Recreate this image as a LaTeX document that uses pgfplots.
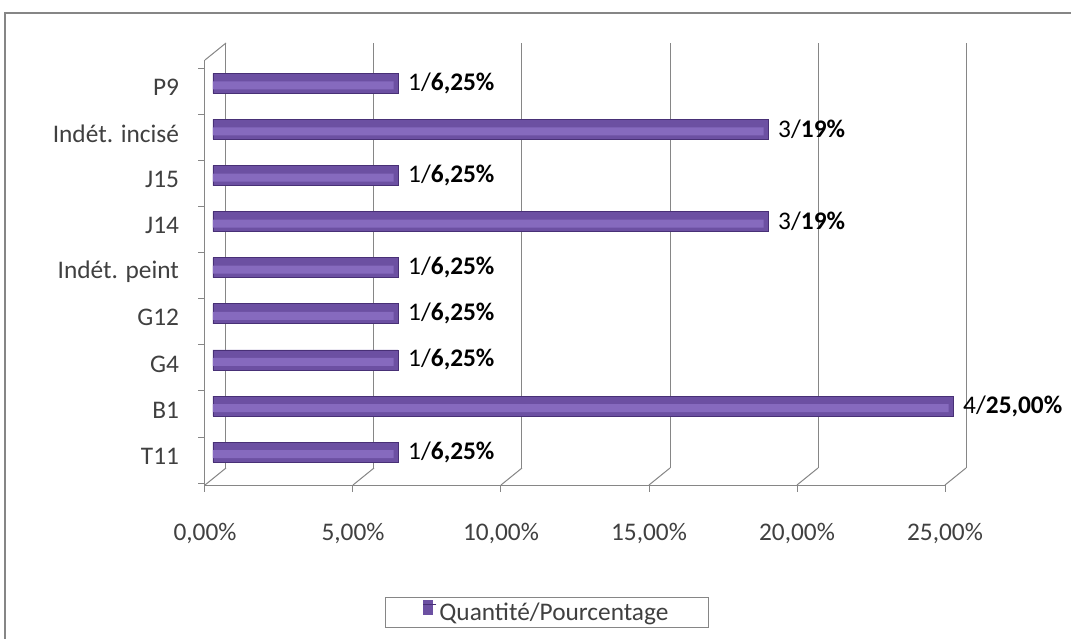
\documentclass[border=0pt]{standalone}
\usepackage{pgfplots}
\pgfplotsset{compat=1.18}
\usepackage{fontspec}
\setmainfont{Carlito}
\definecolor{barbase}{RGB}{108,80,162}
\definecolor{barhi}{RGB}{134,106,190}
\definecolor{barline}{RGB}{72,48,118}
\definecolor{gridcol}{RGB}{134,134,134}
\definecolor{txtcol}{RGB}{64,64,64}
\def\lbla{1/\textbf{6,25\%}}
\def\lblb{3/\textbf{19\%}}
\def\lblc{4/\textbf{25,00\%}}

\begin{document}
\begin{tikzpicture}[font=\fontsize{19}{23}\selectfont]
\path[use as bounding box, fill=white] (-153.75pt,-115.5pt) rectangle (649.5pt,363.75pt);
\draw[gridcol, line width=1.5pt] (-150pt,-130pt) -- (-150pt,354pt) -- (670pt,354pt);
\begin{axis}[
    at={(0,0)}, anchor=south west,
    scale only axis, width=555pt, height=318.75pt,
    xmin=0, xmax=25, ymin=-0.54, ymax=8.68,
    clip=false,
    axis x line*=bottom, axis y line*=left,
    axis line style={gridcol, line width=0.75pt, -},
    tick align=outside,
    major tick length=5pt,
    tick style={gridcol, line width=0.75pt},
    xtick={0,5,...,25},
    xticklabels={{0,00\%},{5,00\%},{10,00\%},{15,00\%},{20,00\%},{25,00\%}},
    xticklabel style={yshift=-20pt},
    ytick={-0.5,0.5,...,8.5},
    yticklabels={},
    extra y ticks={0,1,...,8},
    extra y tick labels={T11,B1,G4,G12,{Indét. peint},J14,J15,{Indét. incisé},P9},
    extra y tick style={major tick length=0pt, yticklabel style={xshift=-16pt, yshift=3pt}},
    every tick label/.append style={text=txtcol},
    xmajorgrids,
    major grid style={gridcol, line width=0.75pt, xshift=15.75pt, yshift=12.75pt},
    legend style={at={(0.462,-0.2635)}, anchor=north, draw=gridcol, line width=0.75pt,
        inner xsep=28pt, inner ysep=2pt, text=txtcol},
    legend image code/.code={
        \fill[barbase] (0pt,-7pt) rectangle (7pt,3pt);
        \path (0pt,0pt) -- (10pt,0pt);
    },
]
% base bars
\addplot[xbar, bar width=15pt, fill=barbase, draw=barline, line width=0.6pt,
    xshift=6pt, yshift=6pt,
    point meta=explicit symbolic,
    nodes near coords={\csname lbl\pgfplotspointmeta\endcsname},
    every node near coord/.append style={anchor=west, text=black, xshift=4pt}]
coordinates {
    (6.25,0) [a]
    (25,1) [c]
    (6.25,2) [a]
    (6.25,3) [a]
    (6.25,4) [a]
    (18.75,5) [b]
    (6.25,6) [a]
    (18.75,7) [b]
    (6.25,8) [a]
};
% lighter band on the bars
\addplot[xbar, bar width=6pt, fill=barhi, draw=none, forget plot,
    xshift=6pt, yshift=4.5pt]
coordinates {
    (6.1,0) (24.85,1) (6.1,2) (6.1,3) (6.1,4) (18.6,5) (6.1,6) (18.6,7) (6.1,8)
};
\legend{Quantité/Pourcentage}
\pgfplotsinvokeforeach{0,5,10,15,20,25}{
    \draw[gridcol, line width=0.75pt] (axis cs:#1,-0.54) -- ++(15.75pt,12.75pt);
}
\draw[gridcol, line width=0.75pt] (rel axis cs:0,1) -- ++(15.75pt,12.75pt);
\end{axis}
\end{tikzpicture}
\end{document}
